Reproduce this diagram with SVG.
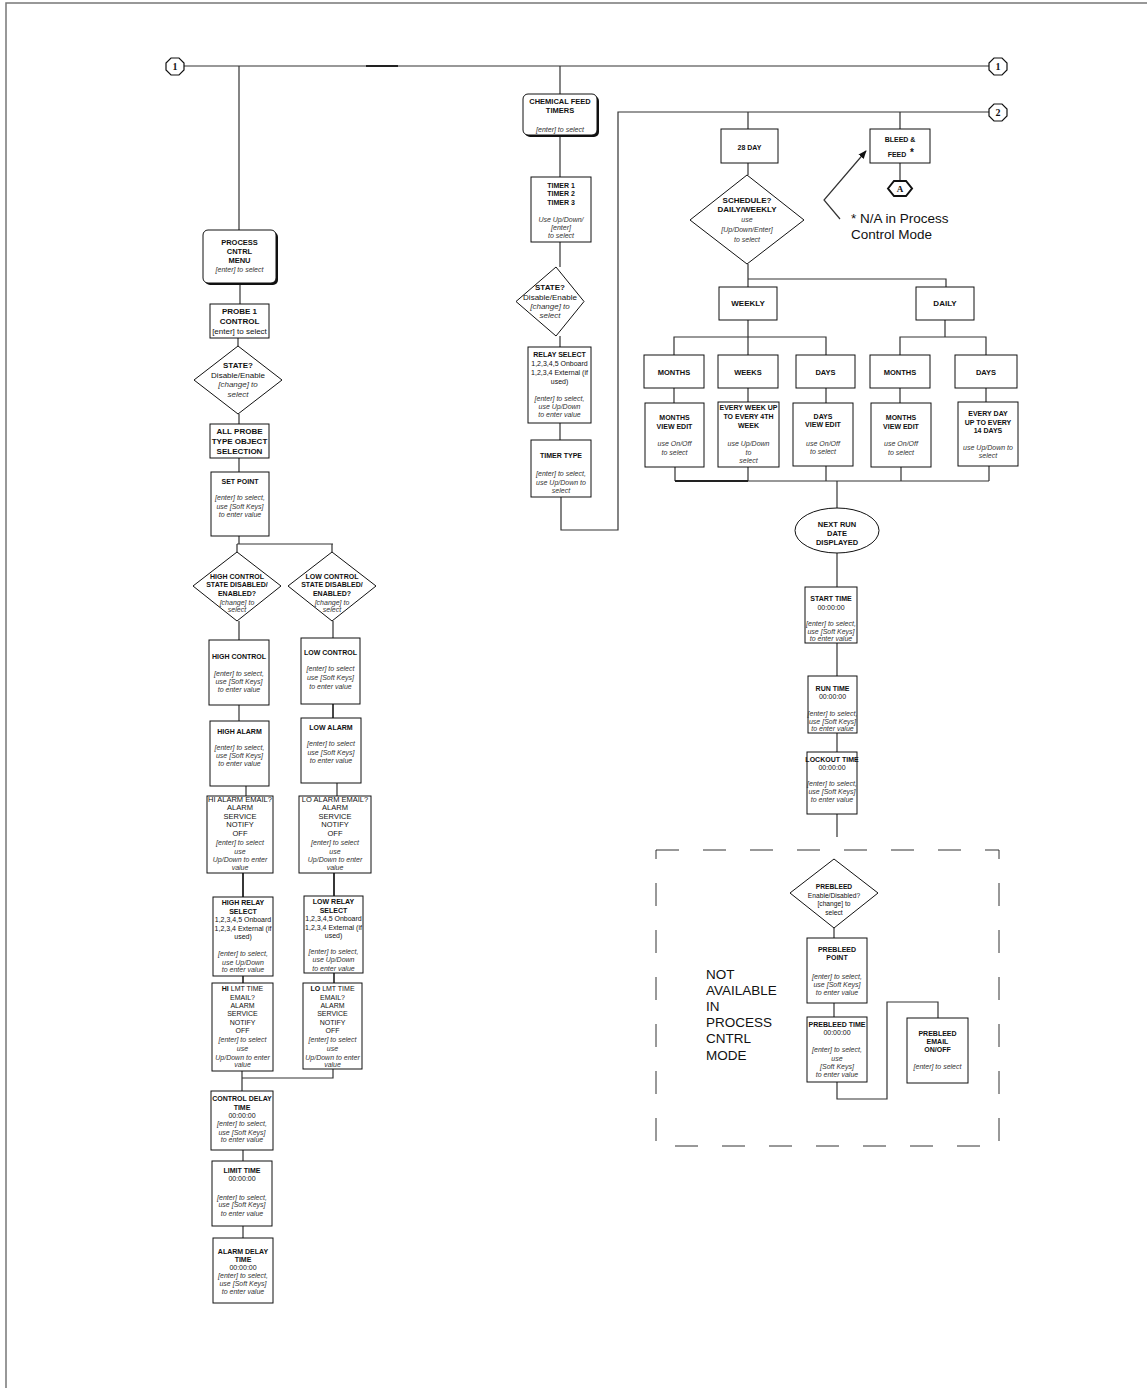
<svg xmlns="http://www.w3.org/2000/svg" width="1147" height="1388" viewBox="0 0 1147 1388">
<defs>
<style>
text{font-family:"Liberation Sans",Arial,sans-serif;text-anchor:middle;fill:#111}
.b{font-weight:bold;font-size:7px}
.b8{font-weight:bold;font-size:8px}
.i{font-style:italic;font-size:7px;fill:#333}
.i8{font-style:italic;font-size:8px;fill:#333}
.r{font-size:7px}
.r75{font-size:7.5px}
.r8{font-size:8px}
.big{font-size:13.5px;text-anchor:start}
.num{font-family:"Liberation Serif","Times New Roman",serif;font-weight:bold;font-size:10px}
.box{fill:#fff;stroke:#111;stroke-width:1}
.sh{fill:#111}
.ln{fill:none;stroke:#333;stroke-width:1.2}
.oc{fill:#fff;stroke:#111;stroke-width:1.2}
</style>
<marker id="ah" viewBox="0 0 10 10" refX="9" refY="5" markerWidth="7" markerHeight="7" orient="auto">
<path d="M0,1 L10,5 L0,9 z" fill="#111"/>
</marker>
</defs>
<rect width="1147" height="1388" fill="#fff"/>
<g id="frame">
<path d="M6,1388 L6,3 L1147,3" fill="none" stroke="#777" stroke-width="1.5"/>
</g>

<g id="connectors">
<path class="ln" d="M183,66 L989,66"/>
<path d="M366,66 L398,66" stroke="#222" stroke-width="2"/>
<path class="ln" d="M239,66 L239,230"/>
<path class="ln" d="M560,66 L560,94"/>
<path class="ln" d="M560,135 L560,177"/>
<path class="ln" d="M560,242 L560,267"/>
<path class="ln" d="M560,336 L560,347"/>
<path class="ln" d="M560,423 L560,440"/>
<path class="ln" d="M561,497 L561,530 L618,530 L618,112 L989,112"/>
<path class="ln" d="M748,112 L748,129 M900,112 L900,129"/>
<path class="ln" d="M748,163 L748,175 M900,163 L900,181"/>
<path class="ln" d="M748,264 L748,287 M748,279 L946,279 L946,287"/>
<path class="ln" d="M748,320 L748,355 M674,355 L674,337 L826,337 L826,355"/>
<path class="ln" d="M945,320 L945,337 M900,355 L900,337 L986,337 L986,355"/>
<path class="ln" d="M674,388 L674,403 M748,388 L748,402 M826,388 L826,403 M900,388 L900,403 M986,388 L986,402"/>
<path class="ln" d="M675,467 L675,481 M748,467 L748,481 M826,466 L826,481 M901,467 L901,481 M989,466 L989,481 M675,481 L989,481"/>
<path d="M675,481 L748,481" stroke="#222" stroke-width="2"/>
<path class="ln" d="M837,481 L837,508"/>
<path class="ln" d="M837,553 L837,587 M837,643 L837,676 M837,733 L837,752 M837,814 L837,837"/>
<path class="ln" d="M834,928 L834,938 M834,1003 L834,1017"/>
<path class="ln" d="M837,1082 L837,1099 L887,1099 L887,1002 L938,1002 L938,1018"/>
<path class="ln" d="M840,219 L824,200 L866,151" marker-end="url(#ah)"/>
<path class="ln" d="M240,283 L240,304"/>
<path class="ln" d="M238,338 L238,346"/>
<path class="ln" d="M239,414 L239,424 M239,458 L239,472 M239,536 L239,544"/>
<path class="ln" d="M237,544 L333,544 M237,544 L237,552 M332,544 L332,552"/>
<path class="ln" d="M239,621 L239,640 M333,621 L333,638"/>
<path class="ln" d="M239,705 L239,721"/>
<path d="M333,704 L333,718" stroke="#333" stroke-width="1.8"/>
<path class="ln" d="M246,786 L246,796 M337,783 L337,796"/>
<path d="M243,873 L243,897 M334,873 L334,896" stroke="#222" stroke-width="1.8"/>
<path d="M243,976 L243,983 M334,973 L334,983" stroke="#222" stroke-width="1.6"/>
<path class="ln" d="M242,1071 L242,1091 M333,1069 L333,1078 L242,1078"/>
<path class="ln" d="M243,1150 L243,1161 M243,1226 L243,1238"/>
</g>

<g id="conn1-left"><polygon class="oc" points="171,58 179,58 184,63 184,70 179,75 171,75 166,70 166,63"/><text class="num" x="175" y="70">1</text></g>
<g id="conn1-right"><polygon class="oc" points="994,58 1002,58 1007,63 1007,70 1002,75 994,75 989,70 989,63"/><text class="num" x="998" y="70">1</text></g>
<g id="conn2"><polygon class="oc" points="994,104 1002,104 1007,109 1007,116 1002,121 994,121 989,116 989,109"/><text class="num" x="998" y="116">2</text></g>

<g id="chem-feed">
<rect class="sh" x="525" y="96" width="74" height="41" rx="5"/>
<rect class="box" x="523" y="94" width="74" height="41" rx="5"/>
<text class="b" style="font-size:7.5px" x="560" y="104">CHEMICAL FEED</text>
<text class="b" style="font-size:7.5px" x="560" y="113">TIMERS</text>
<text class="i" x="560" y="131.5">[enter] to select</text>
</g>
<g id="timers">
<rect class="box" x="531" y="177" width="60" height="65"/>
<text class="b" x="561" y="187.5">TIMER 1</text>
<text class="b" x="561" y="196">TIMER 2</text>
<text class="b" x="561" y="204.5">TIMER 3</text>
<text class="i" x="561" y="221.5">Use Up/Down/</text>
<text class="i" x="561" y="229.5">[enter]</text>
<text class="i" x="561" y="237.5">to select</text>
</g>
<g id="timer-state">
<polygon class="box" points="556,267 584,301.5 556,336 516,301.5"/>
<text class="b8" x="550" y="290">STATE?</text>
<text class="r8" x="550" y="300">Disable/Enable</text>
<text class="i8" x="550" y="309">[change] to</text>
<text class="i8" x="550" y="318">select</text>
</g>
<g id="relay-select">
<rect class="box" x="528" y="347" width="63" height="76"/>
<text class="b" x="559.5" y="356.5">RELAY SELECT</text>
<text class="r" x="559.5" y="365.5">1,2,3,4,5 Onboard</text>
<text class="r" x="559.5" y="374.5">1,2,3,4 External (if</text>
<text class="r" x="559.5" y="383.5">used)</text>
<text class="i" x="559.5" y="400.5">[enter] to select,</text>
<text class="i" x="559.5" y="408.5">use Up/Down</text>
<text class="i" x="559.5" y="416.5">to enter value</text>
</g>
<g id="timer-type">
<rect class="box" x="531" y="440" width="60" height="57"/>
<text class="b" x="561" y="457.5">TIMER TYPE</text>
<text class="i" x="561" y="475.5">[enter] to select,</text>
<text class="i" x="561" y="484.5">use Up/Down to</text>
<text class="i" x="561" y="492.5">select</text>
</g>

<g id="day28">
<rect class="box" x="721" y="129" width="57" height="34"/>
<text class="b" x="749.5" y="149.5">28 DAY</text>
</g>
<g id="bleed-feed">
<rect class="box" x="870" y="129" width="60" height="34"/>
<text class="b" x="900" y="141.5">BLEED &amp;</text>
<text class="b" x="897" y="156.5">FEED</text>
<text class="b" style="font-size:10px" x="912" y="156">*</text>
</g>
<g id="hex-a">
<polygon points="888,188.5 894,181 906,181 912,188.5 906,196 894,196" fill="#fff" stroke="#111" stroke-width="2"/>
<text class="num" style="font-size:9px" x="900" y="192">A</text>
</g>
<g id="note">
<text class="big" x="851" y="223">* N/A in Process</text>
<text class="big" x="851" y="239">Control Mode</text>
</g>
<g id="schedule">
<polygon class="box" points="747,175 804,220 747,264 690,220"/>
<text class="b8" x="747" y="202.5">SCHEDULE?</text>
<text class="b8" x="747" y="211.5">DAILY/WEEKLY</text>
<text class="i" x="747" y="221.5">use</text>
<text class="i" x="747" y="231.5">[Up/Down/Enter]</text>
<text class="i" x="747" y="241.5">to select</text>
</g>
<g id="weekly"><rect class="box" x="719" y="287" width="58" height="33"/><text class="b8" x="748" y="306">WEEKLY</text></g>
<g id="daily"><rect class="box" x="916" y="287" width="58" height="33"/><text class="b8" x="945" y="306">DAILY</text></g>
<g id="w-months"><rect class="box" x="644" y="355" width="60" height="33"/><text class="b" style="font-size:7.5px" x="674" y="374.5">MONTHS</text></g>
<g id="w-weeks"><rect class="box" x="718" y="355" width="60" height="33"/><text class="b" style="font-size:7.5px" x="748" y="374.5">WEEKS</text></g>
<g id="w-days"><rect class="box" x="796" y="355" width="59" height="33"/><text class="b" style="font-size:7.5px" x="825.5" y="374.5">DAYS</text></g>
<g id="d-months"><rect class="box" x="870" y="355" width="60" height="33"/><text class="b" style="font-size:7.5px" x="900" y="374.5">MONTHS</text></g>
<g id="d-days"><rect class="box" x="955" y="355" width="62" height="33"/><text class="b" style="font-size:7.5px" x="986" y="374.5">DAYS</text></g>
<g id="w-months-edit">
<rect class="box" x="645" y="403" width="59" height="64"/>
<text class="b" x="674.5" y="419.5">MONTHS</text><text class="b" x="674.5" y="428.5">VIEW EDIT</text>
<text class="i" x="674.5" y="445.5">use On/Off</text><text class="i" x="674.5" y="454.5">to select</text>
</g>
<g id="w-weeks-edit">
<rect class="box" x="718" y="402" width="61" height="65"/>
<text class="b" x="748.5" y="409.5">EVERY WEEK UP</text><text class="b" x="748.5" y="418.5">TO EVERY 4TH</text><text class="b" x="748.5" y="427.5">WEEK</text>
<text class="i" x="748.5" y="445.5">use Up/Down</text><text class="i" x="748.5" y="454.5">to</text><text class="i" x="748.5" y="462.5">select</text>
</g>
<g id="w-days-edit">
<rect class="box" x="793" y="403" width="60" height="63"/>
<text class="b" x="823" y="418.5">DAYS</text><text class="b" x="823" y="426.5">VIEW EDIT</text>
<text class="i" x="823" y="445.5">use On/Off</text><text class="i" x="823" y="453.5">to select</text>
</g>
<g id="d-months-edit">
<rect class="box" x="871" y="403" width="60" height="64"/>
<text class="b" x="901" y="419.5">MONTHS</text><text class="b" x="901" y="428.5">VIEW EDIT</text>
<text class="i" x="901" y="445.5">use On/Off</text><text class="i" x="901" y="454.5">to select</text>
</g>
<g id="d-days-edit">
<rect class="box" x="958" y="402" width="60" height="64"/>
<text class="b" x="988" y="415.5">EVERY DAY</text><text class="b" x="988" y="424.5">UP TO EVERY</text><text class="b" x="988" y="432.5">14 DAYS</text>
<text class="i" x="988" y="449.5">use Up/Down to</text><text class="i" x="988" y="457.5">select</text>
</g>
<g id="next-run">
<ellipse cx="837" cy="530.5" rx="42" ry="22.5" fill="#fff" stroke="#111" stroke-width="1"/>
<text class="b" style="font-size:7.5px" x="837" y="526.5">NEXT RUN</text>
<text class="b" style="font-size:7.5px" x="837" y="535.5">DATE</text>
<text class="b" style="font-size:7.5px" x="837" y="544.5">DISPLAYED</text>
</g>
<g id="start-time">
<rect class="box" x="805" y="587" width="52" height="56"/>
<text class="b" x="831" y="600.5">START TIME</text><text class="r" x="831" y="609.5">00:00:00</text>
<text class="i" x="831" y="625.5">[enter] to select,</text><text class="i" x="831" y="633.5">use [Soft Keys]</text><text class="i" x="831" y="641">to enter value</text>
</g>
<g id="run-time">
<rect class="box" x="808" y="676" width="49" height="57"/>
<text class="b" x="832.5" y="690.5">RUN TIME</text><text class="r" x="832.5" y="698.5">00:00:00</text>
<text class="i" x="832.5" y="715.5">[enter] to select,</text><text class="i" x="832.5" y="723.5">use [Soft Keys]</text><text class="i" x="832.5" y="731">to enter value</text>
</g>
<g id="lockout-time">
<rect class="box" x="807" y="752" width="50" height="62"/>
<text class="b" x="832" y="761.5">LOCKOUT TIME</text><text class="r" x="832" y="769.5">00:00:00</text>
<text class="i" x="832" y="785.5">[enter] to select,</text><text class="i" x="832" y="793.5">use [Soft Keys]</text><text class="i" x="832" y="801.5">to enter value</text>
</g>
<g id="na-region">
<rect x="656" y="850" width="343" height="296" fill="none" stroke="#333" stroke-width="1" stroke-dasharray="23 24"/>
<text class="big" x="706" y="979">NOT</text>
<text class="big" x="706" y="995">AVAILABLE</text>
<text class="big" x="706" y="1011">IN</text>
<text class="big" x="706" y="1027">PROCESS</text>
<text class="big" x="706" y="1043">CNTRL</text>
<text class="big" x="706" y="1060">MODE</text>
</g>
<g id="prebleed">
<polygon class="box" points="834,859 878,893 834,928 790,893"/>
<text class="b" style="font-size:6.7px" x="834" y="888.5">PREBLEED</text>
<text class="r" style="font-size:6.7px" x="834" y="897.5">Enable/Disabled?</text>
<text class="r" style="font-size:6.7px" x="834" y="905.5">[change] to</text>
<text class="r" style="font-size:6.7px" x="834" y="914.5">select</text>
</g>
<g id="prebleed-point">
<rect class="box" x="807" y="938" width="60" height="65"/>
<text class="b" x="837" y="951.5">PREBLEED</text><text class="b" x="837" y="959.5">POINT</text>
<text class="i" x="837" y="978.5">[enter] to select,</text><text class="i" x="837" y="986.5">use [Soft Keys]</text><text class="i" x="837" y="994.5">to enter value</text>
</g>
<g id="prebleed-time">
<rect class="box" x="807" y="1017" width="60" height="65"/>
<text class="b" x="837" y="1026.5">PREBLEED TIME</text><text class="r" x="837" y="1034.5">00:00:00</text>
<text class="i" x="837" y="1051.5">[enter] to select,</text><text class="i" x="837" y="1060.5">use</text><text class="i" x="837" y="1068.5">[Soft Keys]</text><text class="i" x="837" y="1076.5">to enter value</text>
</g>
<g id="prebleed-email">
<rect class="box" x="907" y="1018" width="61" height="65"/>
<text class="b" x="937.5" y="1035.5">PREBLEED</text><text class="b" x="937.5" y="1043.5">EMAIL</text><text class="b" x="937.5" y="1051.5">ON/OFF</text>
<text class="i" x="937.5" y="1068.5">[enter] to select</text>
</g>

<g id="process-menu">
<rect class="sh" x="205" y="232" width="73" height="53" rx="5"/>
<rect class="box" x="203" y="230" width="73" height="53" rx="5"/>
<text class="b" style="font-size:7.5px" x="239.5" y="244.5">PROCESS</text>
<text class="b" style="font-size:7.5px" x="239.5" y="253.5">CNTRL</text>
<text class="b" style="font-size:7.5px" x="239.5" y="262.5">MENU</text>
<text class="i" x="239.5" y="271.5">[enter] to select</text>
</g>
<g id="probe1">
<rect class="box" x="210" y="304" width="59" height="34"/>
<text class="b8" x="239.5" y="314">PROBE 1</text>
<text class="b8" x="239.5" y="324">CONTROL</text>
<text class="r8" x="239.5" y="334">[enter] to select</text>
</g>
<g id="probe-state">
<polygon class="box" points="238,346 282,380 238,414 194,380"/>
<text class="b8" x="238" y="368">STATE?</text>
<text class="r8" x="238" y="378">Disable/Enable</text>
<text class="i8" x="238" y="387">[change] to</text>
<text class="i8" x="238" y="397">select</text>
</g>
<g id="all-probe">
<rect class="box" x="210" y="424" width="59" height="34"/>
<text class="b8" x="239.5" y="433.5">ALL PROBE</text>
<text class="b8" x="239.5" y="443.5">TYPE OBJECT</text>
<text class="b8" x="239.5" y="453.5">SELECTION</text>
</g>
<g id="set-point">
<rect class="box" x="211" y="472" width="58" height="64"/>
<text class="b" x="240" y="483.5">SET POINT</text>
<text class="i" x="240" y="499.5">[enter] to select,</text><text class="i" x="240" y="508.5">use [Soft Keys]</text><text class="i" x="240" y="516.5">to enter value</text>
</g>
<g id="high-state">
<polygon class="box" points="237,552 281,586 237,621 193,586"/>
<text class="b" x="237" y="578.5">HIGH CONTROL</text><text class="b" x="237" y="586.5">STATE DISABLED/</text><text class="b" x="237" y="595.5">ENABLED?</text>
<text class="i" x="237" y="604.5">[change] to</text><text class="i" x="237" y="611.5">select</text>
</g>
<g id="low-state">
<polygon class="box" points="332,552 376,586 332,621 288,586"/>
<text class="b" x="332" y="578.5">LOW CONTROL</text><text class="b" x="332" y="586.5">STATE DISABLED/</text><text class="b" x="332" y="595.5">ENABLED?</text>
<text class="i" x="332" y="604.5">[change] to</text><text class="i" x="332" y="611.5">select</text>
</g>
<g id="high-control">
<rect class="box" x="209" y="640" width="60" height="65"/>
<text class="b" x="239" y="658.5">HIGH CONTROL</text>
<text class="i" x="239" y="675.5">[enter] to select,</text><text class="i" x="239" y="683.5">use [Soft Keys]</text><text class="i" x="239" y="691.5">to enter value</text>
</g>
<g id="low-control">
<rect class="box" x="301" y="638" width="59" height="66"/>
<text class="b" x="330.5" y="654.5">LOW CONTROL</text>
<text class="i" x="330.5" y="670.5">[enter] to select</text><text class="i" x="330.5" y="679.5">use [Soft Keys]</text><text class="i" x="330.5" y="688.5">to enter value</text>
</g>
<g id="high-alarm">
<rect class="box" x="210" y="721" width="59" height="65"/>
<text class="b" x="239.5" y="733.5">HIGH ALARM</text>
<text class="i" x="239.5" y="749.5">[enter] to select,</text><text class="i" x="239.5" y="757.5">use [Soft Keys]</text><text class="i" x="239.5" y="765.5">to enter value</text>
</g>
<g id="low-alarm">
<rect class="box" x="301" y="718" width="60" height="65"/>
<text class="b" x="331" y="729.5">LOW ALARM</text>
<text class="i" x="331" y="745.5">[enter] to select</text><text class="i" x="331" y="754.5">use [Soft Keys]</text><text class="i" x="331" y="762.5">to enter value</text>
</g>
<g id="hi-alarm-email">
<rect class="box" x="207" y="796" width="66" height="77"/>
<text class="r75" x="240" y="801.5">HI ALARM EMAIL?</text><text class="r75" x="240" y="809.5">ALARM</text><text class="r75" x="240" y="818.5">SERVICE</text><text class="r75" x="240" y="826.5">NOTIFY</text><text class="r75" x="240" y="835.5">OFF</text>
<text class="i" x="240" y="844.5">[enter] to select</text><text class="i" x="240" y="853.5">use</text><text class="i" x="240" y="861.5">Up/Down to enter</text><text class="i" x="240" y="869.5">value</text>
</g>
<g id="lo-alarm-email">
<rect class="box" x="299" y="796" width="72" height="77"/>
<text class="r75" x="335" y="801.5">LO ALARM EMAIL?</text><text class="r75" x="335" y="809.5">ALARM</text><text class="r75" x="335" y="818.5">SERVICE</text><text class="r75" x="335" y="826.5">NOTIFY</text><text class="r75" x="335" y="835.5">OFF</text>
<text class="i" x="335" y="844.5">[enter] to select</text><text class="i" x="335" y="853.5">use</text><text class="i" x="335" y="861.5">Up/Down to enter</text><text class="i" x="335" y="869.5">value</text>
</g>
<g id="high-relay">
<rect class="box" x="213" y="897" width="60" height="79"/>
<text class="b" x="243" y="904.5">HIGH RELAY</text><text class="b" x="243" y="913.5">SELECT</text>
<text class="r" x="243" y="921.5">1,2,3,4,5 Onboard</text><text class="r" x="243" y="930.5">1,2,3,4 External (if</text><text class="r" x="243" y="938.5">used)</text>
<text class="i" x="243" y="955.5">[enter] to select,</text><text class="i" x="243" y="964.5">use Up/Down</text><text class="i" x="243" y="971.5">to enter value</text>
</g>
<g id="low-relay">
<rect class="box" x="304" y="896" width="59" height="77"/>
<text class="b" x="333.5" y="903.5">LOW RELAY</text><text class="b" x="333.5" y="912.5">SELECT</text>
<text class="r" x="333.5" y="920.5">1,2,3,4,5 Onboard</text><text class="r" x="333.5" y="929.5">1,2,3,4 External (if</text><text class="r" x="333.5" y="937.5">used)</text>
<text class="i" x="333.5" y="953.5">[enter] to select,</text><text class="i" x="333.5" y="961.5">use Up/Down</text><text class="i" x="333.5" y="970.5">to enter value</text>
</g>
<g id="hi-lmt">
<rect class="box" x="212" y="983" width="61" height="88"/>
<text class="r" x="242.5" y="990.5"><tspan font-weight="bold">HI</tspan> LMT TIME</text>
<text class="r" x="242.5" y="999.5">EMAIL?</text><text class="r" x="242.5" y="1007.5">ALARM</text><text class="r" x="242.5" y="1015.5">SERVICE</text><text class="r" x="242.5" y="1024.5">NOTIFY</text><text class="r" x="242.5" y="1032.5">OFF</text>
<text class="i" x="242.5" y="1041.5">[enter] to select</text><text class="i" x="242.5" y="1050.5">use</text><text class="i" x="242.5" y="1059.5">Up/Down to enter</text><text class="i" x="242.5" y="1066.5">value</text>
</g>
<g id="lo-lmt">
<rect class="box" x="303" y="983" width="59" height="86"/>
<text class="r" x="332.5" y="990.5"><tspan font-weight="bold">LO</tspan> LMT TIME</text>
<text class="r" x="332.5" y="999.5">EMAIL?</text><text class="r" x="332.5" y="1007.5">ALARM</text><text class="r" x="332.5" y="1015.5">SERVICE</text><text class="r" x="332.5" y="1024.5">NOTIFY</text><text class="r" x="332.5" y="1032.5">OFF</text>
<text class="i" x="332.5" y="1041.5">[enter] to select</text><text class="i" x="332.5" y="1050.5">use</text><text class="i" x="332.5" y="1059.5">Up/Down to enter</text><text class="i" x="332.5" y="1066.5">value</text>
</g>
<g id="control-delay">
<rect class="box" x="211" y="1091" width="62" height="59"/>
<text class="b" x="242" y="1100.5">CONTROL DELAY</text><text class="b" x="242" y="1109.5">TIME</text><text class="r" x="242" y="1117.5">00:00:00</text>
<text class="i" x="242" y="1125.5">[enter] to select,</text><text class="i" x="242" y="1134.5">use [Soft Keys]</text><text class="i" x="242" y="1141.5">to enter value</text>
</g>
<g id="limit-time">
<rect class="box" x="212" y="1161" width="60" height="65"/>
<text class="b" x="242" y="1172.5">LIMIT TIME</text><text class="r" x="242" y="1180.5">00:00:00</text>
<text class="i" x="242" y="1199.5">[enter] to select,</text><text class="i" x="242" y="1206.5">use [Soft Keys]</text><text class="i" x="242" y="1215.5">to enter value</text>
</g>
<g id="alarm-delay">
<rect class="box" x="213" y="1238" width="60" height="65"/>
<text class="b" x="243" y="1253.5">ALARM DELAY</text><text class="b" x="243" y="1261.5">TIME</text><text class="r" x="243" y="1269.5">00:00:00</text>
<text class="i" x="243" y="1277.5">[enter] to select,</text><text class="i" x="243" y="1285.5">use [Soft Keys]</text><text class="i" x="243" y="1293.5">to enter value</text>
</g>
</svg>
